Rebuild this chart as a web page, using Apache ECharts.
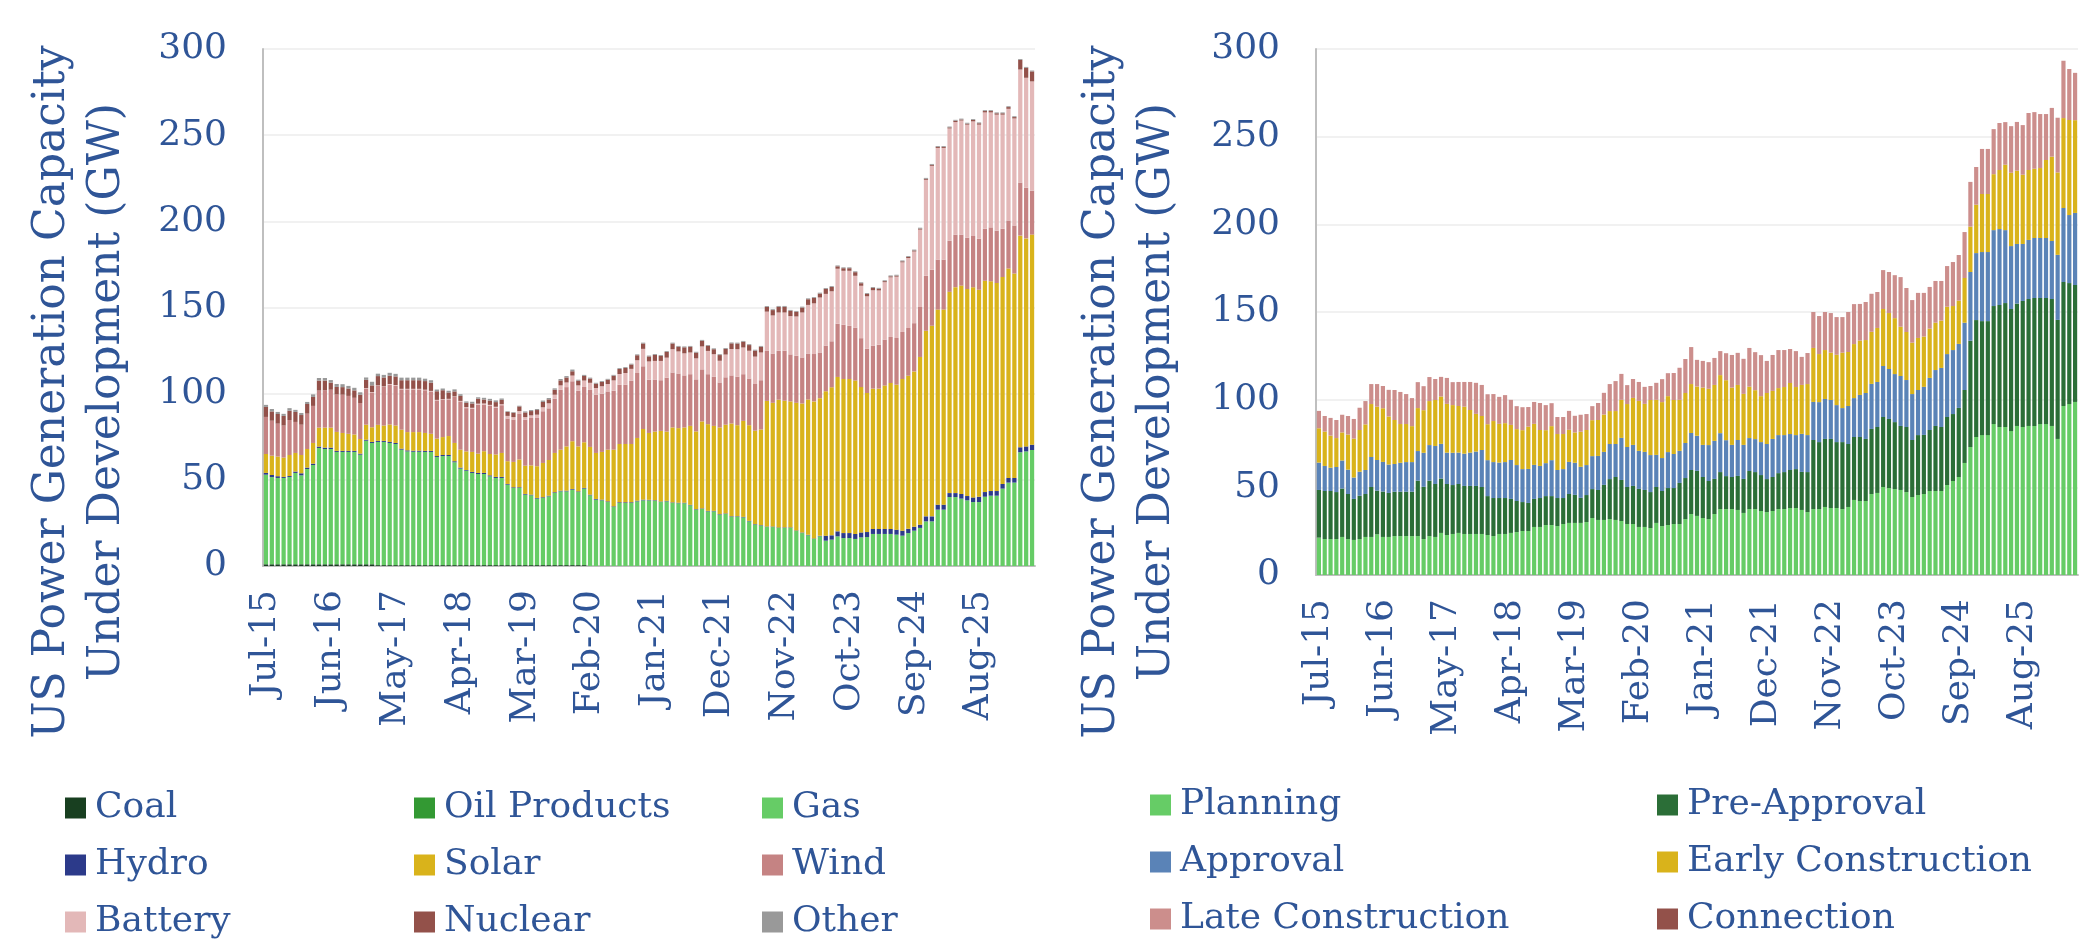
<!DOCTYPE html>
<html><head><meta charset="utf-8">
<script src="https://cdn.jsdelivr.net/npm/echarts@6/dist/echarts.min.js"></script>
<style>html,body{margin:0;padding:0;background:#fff}#c{width:2087px;height:950px}</style>
</head><body><div id="c"></div><script>
var categories = [
'Jul-15','Aug-15','Sep-15','Oct-15','Nov-15','Dec-15',
'Jan-16','Feb-16','Mar-16','Apr-16','May-16','Jun-16','Jul-16','Aug-16','Sep-16','Oct-16','Nov-16','Dec-16',
'Jan-17','Feb-17','Mar-17','Apr-17','May-17','Jun-17','Jul-17','Aug-17','Sep-17','Oct-17','Nov-17','Dec-17',
'Jan-18','Feb-18','Mar-18','Apr-18','May-18','Jun-18','Jul-18','Aug-18','Sep-18','Oct-18','Nov-18','Dec-18',
'Jan-19','Feb-19','Mar-19','Apr-19','May-19','Jun-19','Jul-19','Aug-19','Sep-19','Oct-19','Nov-19','Dec-19',
'Jan-20','Feb-20','Mar-20','Apr-20','May-20','Jun-20','Jul-20','Aug-20','Sep-20','Oct-20','Nov-20','Dec-20',
'Jan-21','Feb-21','Mar-21','Apr-21','May-21','Jun-21','Jul-21','Aug-21','Sep-21','Oct-21','Nov-21','Dec-21',
'Jan-22','Feb-22','Mar-22','Apr-22','May-22','Jun-22','Jul-22','Aug-22','Sep-22','Oct-22','Nov-22','Dec-22',
'Jan-23','Feb-23','Mar-23','Apr-23','May-23','Jun-23','Jul-23','Aug-23','Sep-23','Oct-23','Nov-23','Dec-23',
'Jan-24','Feb-24','Mar-24','Apr-24','May-24','Jun-24','Jul-24','Aug-24','Sep-24','Oct-24','Nov-24','Dec-24',
'Jan-25','Feb-25','Mar-25','Apr-25','May-25','Jun-25','Jul-25','Aug-25','Sep-25','Oct-25','Nov-25','Dec-25',
'Jan-26','Feb-26','Mar-26','Apr-26','May-26'];

var yTicks = [0, 50, 100, 150, 200, 250, 300];

// ---- Left chart: by technology (GW) ----
var coal = [
1,1,1,1,1,1,1,1,1,1,
1,1,1,1,1,1,1,1,1,0.5,
0.5,0.5,0.5,0.5,0.5,0.5,0.5,0.5,0.5,0.5,
0.5,0.5,0.5,0.5,0.5,0.5,0.5,0.5,0.5,0.5,
0.5,0.5,0.5,0.5,0.5,0.5,0.5,0.5,0.5,0.5,
0.5,0.5,0.5,0.5,0.5,0,0,0,0,0,
0,0,0,0,0,0,0,0,0,0,
0,0,0,0,0,0,0,0,0,0,
0,0,0,0,0,0,0,0,0,0,
0,0,0,0,0,0,0,0,0,0,
0,0,0,0,0,0,0,0,0,0,
0,0,0,0,0,0,0,0,0,0,
0,0,0,0,0,0,0,0,0,0,
0];
var oilProducts = [
0,0,0,0,0,0,0,0,0,0, 0,0,0,0,0,0,0,0,0,0, 0,0,0,0,0,0,0,0,0,0,
0,0,0,0,0,0,0,0,0,0, 0,0,0,0,0,0,0,0,0,0, 0,0,0,0,0,0,0,0,0,0,
0,0,0,0,0,0,0,0,0,0, 0,0,0,0,0,0,0,0,0,0, 0,0,0,0,0,0,0,0,0,0,
0,0,0,0,0,0,0,0,0,0, 0,0,0,0,0,0,0,0,0,0, 0,0,0,0,0,0,0,0,0,0,
0,0,0,0,0,0,0,0,0,0, 0];
var gas = [
52.0,50.6,50.1,50.1,50.6,53.0,51.6,55.3,57.6,67.5,
66.9,66.9,65.2,65.2,65.2,65.2,63.6,71.7,70.4,71.5,
71.5,70.9,70.3,67.0,66.0,65.8,65.8,65.7,65.7,62.7,
63.3,63.3,59.7,56.0,54.8,53.5,52.9,52.9,51.5,50.6,
50.6,46.7,44.8,44.8,40.9,40.5,38.6,39.0,39.9,41.9,
42.8,42.8,43.8,42.4,44.4,41.0,38.5,38.1,37.1,34.2,
36.6,36.6,36.6,37.5,38.1,38.1,37.9,37.1,37.5,36.6,
36.4,36.4,35.2,32.7,33.1,31.7,31.7,29.8,30.2,28.6,
28.6,28.2,25.9,24.0,23.4,22.6,22.6,22.1,22.1,22.1,
20.3,19.1,17.8,15.7,17.2,14.7,15.3,17.2,16.2,16.2,
15.7,16.6,16.8,18.6,18.6,18.6,18.6,18.2,17.6,19.1,
20.5,22.1,25.9,25.9,32.7,32.7,40.0,40.0,39.1,38.1,
37.1,37.1,40.2,40.8,40.8,44.9,48.4,48.4,66.0,66.5,
67.3];
var hydro = [
1.0,1.2,1.0,0.6,0.6,0.8,1.2,0.8,0.8,0.8,
0.8,0.8,0.6,0.6,0.6,0.6,0.6,0.6,0.6,0.6,
0.6,0.6,0.6,0.6,0.6,0.6,0.6,0.6,0.6,0.6,
0.6,0.6,0.6,0.6,0.4,0.6,0.6,0.6,0.6,0.6,
0.6,0.4,0.4,0.4,0.4,0.4,0.4,0.4,0.4,0.4,
0.4,0.4,0.4,0.4,0.4,0.4,0.4,0.4,0.4,0.4,
0.4,0.4,0.4,0.4,0.4,0.3,0.3,0.3,0.3,0.3,
0.3,0.3,0.3,0.3,0.3,0.3,0.3,0.3,0.3,0.3,
0.3,0.3,0.3,0.3,0.3,0.3,0.3,0.3,0.3,0.3,
0.3,0.3,0.3,0.3,0.3,2.9,2.5,2.9,2.9,2.9,
2.9,2.9,2.9,2.9,2.9,2.9,2.9,2.9,2.9,2.5,
2.3,1.9,2.9,2.9,2.9,2.9,2.3,2.3,2.7,2.5,
2.7,3.1,2.7,2.7,2.7,2.7,2.7,2.7,2.9,2.9,
3.1];
var solar = [
11.0,11.2,11.4,11.2,12.2,10.8,10.6,10.8,12.0,11.0,
11.6,11.6,11.0,10.4,9.9,9.5,8.5,8.7,8.5,9.3,
8.9,10.1,10.1,11.0,10.6,10.8,10.8,10.4,9.9,10.1,
10.4,11.0,10.6,10.4,10.8,11.6,11.2,12.6,12.4,13.0,
13.9,13.2,14.7,16.1,16.4,17.0,18.4,19.9,20.7,22.8,
23.8,25.7,27.7,26.1,26.5,27.7,26.7,27.7,30.0,32.9,
33.8,33.8,33.8,36.4,41.0,38.8,39.8,41.0,40.2,43.5,
43.3,43.7,45.8,45.1,50.5,50.3,49.3,50.3,51.5,53.8,
52.8,55.7,55.5,54.2,55.5,72.9,71.8,74.1,73.5,73.1,
74.1,74.9,78.5,79.5,79.9,83.8,85.9,89.6,89.4,89.4,
89.0,84.3,80.7,81.4,81.4,83.2,84.7,84.1,88.0,88.8,
90.1,97.3,107.7,110.6,113.2,113.2,116.8,119.5,120.9,120.1,
121.9,120.1,122.6,121.7,120.7,120.1,121.5,118.6,122.8,120.7,
121.9];
var wind = [
21.5,20.3,19.1,18.6,20.3,18.0,17.6,20.5,21.5,21.5,
21.7,22.0,21.7,22.2,22.0,21.3,20.9,20.9,20.1,22.6,
22.4,23.2,23.2,23.4,24.8,24.8,24.8,24.8,24.6,22.2,
21.7,21.3,26.7,28.0,25.1,25.0,28.4,27.1,27.9,27.1,
27.7,24.8,24.6,26.7,26.7,27.5,28.0,30.0,30.0,31.5,
34.8,34.4,34.8,32.3,32.1,33.3,33.8,33.8,33.8,34.2,
34.4,34.4,36.8,37.7,36.4,30.9,30.2,29.4,31.3,31.9,
31.7,30.2,30.0,30.2,30.2,29.0,28.6,26.1,27.5,27.9,
28.2,27.1,27.1,27.1,28.6,29.0,28.6,28.4,29.0,27.3,
27.3,26.7,26.7,27.5,26.5,26.5,26.7,30.9,31.5,30.9,
30.6,28.4,25.7,25.0,25.5,26.7,26.7,27.1,27.3,27.7,
28.0,29.0,31.9,32.5,29.0,29.0,29.6,30.4,29.6,29.8,
29.8,29.6,30.2,31.3,30.4,28.0,27.9,27.9,30.8,29.4,
25.5];
var battery = [
0,0,0,0,0,0,0,0,0,0,
0,0,0,0,0,0,0,0.3,0.3,0.3,
0.3,0.3,0.3,0.3,0.3,0.3,0.3,0.3,0.3,0.3,
0.3,0.3,0.3,0.3,0.6,0.6,0.6,0.6,0.6,0.6,
0.6,1.5,1.4,1.4,1.5,1.5,1.9,2.3,2.9,2.3,
2.5,2.7,3.3,3.1,3.7,3.9,3.9,4.3,4.3,6.0,
6.2,6.8,6.8,7.4,10.1,10.6,10.8,11.2,11.6,13.5,
12.8,12.8,12.6,12.2,13.3,13.5,13.0,12.6,13.2,15.3,
15.9,15.5,16.1,15.9,16.1,22.8,22.1,22.2,22.2,22.2,
22.8,26.1,28.2,29.4,31.9,30.0,29.0,31.9,31.3,31.9,
30.2,30.4,30.4,32.1,31.5,33.3,34.6,35.6,40.4,40.6,
41.6,44.9,55.7,60.3,64.8,64.8,65.2,65.4,66.2,65.6,
66.5,66.2,67.5,66.7,67.3,66.2,64.8,62.1,65.6,63.8,
63.4];
var nuclear = [
5.8,5.4,5.6,5.6,5.4,5.8,5.6,5.6,5.2,5.8,
5.6,4.1,4.4,4.4,4.3,4.3,4.8,4.8,3.9,5.4,
5.2,4.8,5.0,5.0,5.0,5.0,5.0,5.0,4.8,5.0,
5.2,3.7,2.9,2.9,2.5,2.5,2.9,2.3,2.5,2.7,
2.5,2.3,2.5,2.7,2.7,2.5,2.7,3.1,2.3,2.9,
2.9,2.9,2.5,2.7,2.7,2.5,2.5,2.5,2.5,2.7,
2.9,2.9,2.5,2.9,3.1,2.9,3.5,2.9,3.3,3.3,
2.7,3.5,3.3,3.3,3.3,2.9,2.9,3.3,3.3,3.3,
3.3,3.3,3.3,3.5,3.3,2.7,3.1,3.3,3.3,3.1,
2.7,2.9,3.3,3.1,2.3,2.9,2.5,1.4,1.5,1.5,
2.1,1.5,1.4,1.4,1.0,0.6,0.6,0.6,0.6,0.6,
0.6,0.6,0.6,0.6,0.6,0.6,0.6,0.8,0.6,0.6,
0.8,0.8,0.8,0.8,0.8,0.8,1.0,0.8,5.6,5.8,
5.8];
var other = [
1.2,1.4,1.2,1.2,1.5,1.2,1.2,1.2,1.5,1.5,
1.5,1.5,1.7,1.7,1.5,1.5,1.4,1.4,2.1,1.4,
1.5,1.7,1.5,1.5,1.5,1.5,1.5,1.4,1.4,1.0,
1.0,1.0,1.2,1.0,0.8,1.0,0.8,1.0,1.0,1.0,
0.8,0.4,0.4,0.4,0.6,0.6,0.6,0.8,0.8,0.8,
0.8,0.8,1.0,0.6,0.6,0.5,0.5,0.5,0.5,0.5,
0.5,0.5,0.5,0.5,0.5,0.5,0.5,0.5,0.5,0.5,
0.5,0.5,0.5,0.5,0.5,0.5,0.5,0.5,0.5,0.5,
0.5,0.5,0.5,0.5,0.5,0.5,0.5,0.5,0.5,0.5,
0.5,0.5,0.5,0.5,0.5,0.5,0.5,0.5,0.5,0.5,
0.5,0.5,0.5,0.5,0.5,0.5,0.5,0.5,0.5,0.5,
0.5,0.5,0.5,0.5,0.5,0.5,0.5,0.5,0.5,0.5,
0.5,0.5,0.5,0.5,0.5,0.5,0.5,0.5,0.5,0.5,
0.5];

// ---- Right chart: by stage (GW) ----
var planning = [
21.3,20.5,20.5,20.5,21.7,20.5,20.0,20.5,21.7,21.7,
23.2,21.7,21.7,22.2,22.2,22.2,22.2,22.2,20.5,22.2,
21.7,24.0,22.8,23.4,24.0,23.4,23.4,23.4,23.4,22.8,
22.2,23.4,23.4,24.0,24.5,25.1,25.1,27.4,27.4,28.5,
28.5,27.9,29.1,29.7,29.7,29.7,30.2,32.5,31.4,31.4,
31.9,31.4,30.8,29.1,29.1,27.4,27.4,26.8,29.7,27.9,
28.5,29.1,29.1,31.9,34.8,33.7,32.5,31.9,34.8,37.6,
37.6,37.6,37.1,35.4,37.6,37.6,36.5,35.9,36.5,37.6,
37.6,38.2,38.2,37.1,35.9,37.6,37.6,38.8,38.2,38.2,
37.6,38.8,42.8,42.2,42.2,46.2,46.8,50.2,49.6,49.0,
48.5,47.3,44.5,45.6,46.2,47.9,47.9,47.9,51.3,53.6,
55.9,63.9,73.0,78.7,79.8,79.8,86.1,84.4,84.4,82.1,
85.0,84.4,85.0,85.0,86.1,86.1,85.0,77.6,96.4,97.5,
98.7];
var preApproval = [
27.2,27.4,27.4,26.8,27.6,25.7,23.4,24.7,24.5,28.5,
24.9,25.9,25.1,25.3,25.3,25.3,25.3,31.6,29.8,31.6,
30.2,31.0,29.1,27.9,27.9,27.4,27.4,27.4,26.8,22.2,
21.7,20.5,20.5,19.4,17.7,16.5,16.0,16.0,16.5,16.5,
16.5,16.0,14.8,16.5,16.0,14.3,15.4,16.5,17.1,20.0,
22.8,24.5,23.4,21.1,21.7,21.7,21.1,20.5,20.5,20.0,
21.1,20.5,23.4,23.4,25.1,25.7,23.4,21.7,20.0,21.1,
18.8,18.3,19.4,19.4,21.7,21.1,20.5,18.8,19.4,20.5,
21.1,21.7,22.2,21.7,22.8,39.4,38.2,38.8,39.4,37.6,
38.2,35.9,35.9,36.5,35.4,37.1,37.6,39.9,39.4,38.2,
36.5,37.1,32.5,34.2,33.7,34.8,37.1,36.5,38.8,38.2,
39.4,41.6,60.6,66.7,65.0,65.0,67.3,69.6,70.7,69.6,
69.8,71.9,72.4,73.0,71.9,71.9,72.4,67.9,70.7,69.0,
66.7];
var approval = [
15.6,14.3,13.3,14.3,16.0,13.9,12.2,13.7,13.7,17.1,
17.5,16.9,16.2,15.8,16.5,16.9,16.9,16.9,19.4,20.3,
21.7,19.8,17.9,18.4,17.9,18.4,19.0,19.6,21.1,20.5,
20.5,20.2,20.5,22.2,20.5,18.8,19.4,19.4,18.3,18.8,
20.5,16.0,16.5,18.3,18.3,17.7,17.1,18.8,19.4,18.8,
20.0,18.8,24.0,22.8,23.4,21.7,21.7,21.1,18.3,18.8,
20.5,19.4,18.3,20.0,21.1,20.0,18.3,20.5,21.7,22.2,
20.5,18.3,20.5,19.4,18.8,18.8,18.8,20.0,21.7,21.7,
21.1,20.5,19.4,21.7,21.1,21.7,22.8,22.8,22.2,21.1,
19.4,21.7,22.2,24.0,26.2,25.7,25.7,29.1,28.5,27.4,
28.5,26.8,26.2,25.7,27.4,29.7,31.9,33.7,35.9,36.5,
36.5,38.4,39.2,38.2,39.4,39.4,43.3,43.3,41.6,35.9,
34.0,32.5,33.7,34.2,34.2,34.2,33.1,37.1,42.2,38.8,
41.1];
var earlyConstruction = [
19.6,19.6,18.3,16.5,16.0,20.0,22.2,23.8,26.0,30.2,
30.4,30.6,27.4,25.1,22.1,21.7,20.5,24.5,24.3,25.1,
26.2,27.0,27.8,27.2,26.6,26.8,24.3,21.5,19.4,20.5,
23.4,22.1,22.2,20.0,20.5,22.2,24.1,23.4,20.5,18.8,
19.4,20.5,20.0,18.3,17.3,20.0,20.0,20.5,20.5,21.3,
18.8,18.8,21.7,24.5,26.8,28.5,27.4,31.4,31.4,31.9,
31.9,30.8,29.1,28.5,27.9,28.1,32.7,32.1,31.9,33.1,
34.2,32.7,31.4,29.1,29.3,27.9,26.2,29.1,27.4,26.8,
27.4,29.1,27.4,27.9,29.1,30.8,27.4,27.9,27.0,28.7,
31.6,30.8,30.8,31.0,30.2,29.7,30.8,32.5,31.9,31.9,
28.1,27.4,29.3,29.7,28.7,28.1,27.0,27.0,27.0,25.1,
24.7,25.5,25.9,27.6,33.1,33.1,31.9,33.7,37.3,41.8,
41.8,39.5,39.9,39.5,39.9,44.5,48.1,47.0,51.3,54.2,
52.9];
var lateConstruction = [
9.9,8.9,10.1,10.3,10.1,10.6,11.2,12.7,13.3,11.4,
12.9,12.7,15.2,17.1,18.3,17.1,16.0,14.8,13.7,13.7,
12.0,11.2,14.8,13.1,13.7,14.1,16.0,17.7,17.7,17.1,
15.4,15.4,16.0,14.3,13.1,13.1,11.2,12.5,15.4,14.3,
13.1,9.7,9.7,10.8,9.5,9.7,9.1,8.0,9.7,12.4,
15.4,17.1,14.8,10.8,10.8,10.8,9.7,8.0,9.7,13.1,
13.1,15.4,18.3,19.4,21.1,15.2,15.2,15.2,15.4,13.7,
15.4,18.6,18.3,20.0,22.1,21.7,23.4,18.3,20.5,21.7,
21.1,19.4,20.5,16.0,17.7,20.5,21.7,21.7,22.6,21.5,
20.3,22.8,22.8,20.9,21.7,21.7,20.5,22.2,23.4,24.5,
28.3,25.1,24.3,25.7,24.9,23.8,23.8,22.6,23.2,25.1,
26.0,26.2,25.5,21.5,25.7,25.7,25.7,26.8,24.3,26.6,
27.8,28.3,32.5,32.3,30.8,26.2,27.8,31.2,32.7,29.1,
27.0];
var connection = [
0,0,0,0,0,0,0,0,0,0, 0,0,0,0,0,0,0,0,0,0, 0,0,0,0,0,0,0,0,0,0,
0,0,0,0,0,0,0,0,0,0, 0,0,0,0,0,0,0,0,0,0, 0,0,0,0,0,0,0,0,0,0,
0,0,0,0,0,0,0,0,0,0, 0,0,0,0,0,0,0,0,0,0, 0,0,0,0,0,0,0,0,0,0,
0,0,0,0,0,0,0,0,0,0, 0,0,0,0,0,0,0,0,0,0, 0,0,0,0,0,0,0,0,0,0,
0,0,0,0,0,0,0,0,0,0, 0];

var yTitle = 'US Power Generation Capacity\nUnder Development (GW)';

var TXT = '#2f5597';
var FONT = '"DejaVu Serif", "Liberation Serif", serif';
var C = {
  coal:'#183f20', oil:'#339933', gas:'#66cc66', hydro:'#2c3a8a', solar:'#d9b31b',
  wind:'#c58383', battery:'#e3b8b8', nuclear:'#93514a', other:'#999999',
  planning:'#66cc66', pre:'#2b6e37', approval:'#5a83b7', early:'#d9b31b', late:'#cc8e8c', conn:'#93514a'
};

function bar(name, data, color, stack, g) {
  return { name: name, type: 'bar', stack: stack, xAxisIndex: g, yAxisIndex: g,
    data: data, itemStyle: { color: color }, barCategoryGap: '28%',
    emphasis: { disabled: true }, animation: false };
}
function xAx(g) {
  return { type: 'category', gridIndex: g, data: categories,
    axisLine: { show: true, lineStyle: { color: '#bfbfbf', width: 2 } },
    axisTick: { show: false },
    axisLabel: { interval: 10, rotate: 90, color: TXT, fontFamily: FONT, fontSize: 36, margin: 24 } };
}
function yAx(g) {
  return { type: 'value', gridIndex: g, min: yTicks[0], max: yTicks[yTicks.length-1], interval: yTicks[1]-yTicks[0],
    axisLine: { show: true, lineStyle: { color: '#bfbfbf', width: 2 } },
    axisTick: { show: false },
    splitLine: { lineStyle: { color: '#ededed', width: 1.5 } },
    axisLabel: { color: TXT, fontFamily: FONT, fontSize: 36, margin: 36 } };
}
function leg(names, left, top) {
  return { data: names, orient: 'vertical', left: left, top: top, icon: 'rect',
    itemWidth: 21, itemHeight: 21, itemGap: 21, selectedMode: false,
    textStyle: { color: TXT, fontFamily: FONT, fontSize: 36, padding: [0,0,0,4] } };
}

var chart = echarts.init(document.getElementById('c'), null, { renderer: 'canvas' });
chart.setOption({
  animation: false,
  backgroundColor: '#ffffff',
  grid: [
    { left: 263, right: 2087 - 1035, top: 49, bottom: 950 - 566 },
    { left: 1316, right: 2087 - 2078, top: 49, bottom: 950 - 575 }
  ],
  xAxis: [xAx(0), xAx(1)],
  yAxis: [yAx(0), yAx(1)],
  legend: [
    leg(['Coal','Hydro','Battery'], 60, 785),
    leg(['Oil Products','Solar','Nuclear'], 409, 785),
    leg(['Gas','Wind','Other'], 757, 785),
    leg(['Planning','Approval','Late Construction'], 1145, 782),
    leg(['Pre-Approval','Early Construction','Connection'], 1652, 782)
  ],
  graphic: [
    { type: 'text', x: 80, y: 392, rotation: Math.PI / 2,
      style: { text: yTitle, fill: TXT, fontFamily: FONT, fontSize: 44, lineHeight: 55,
        align: 'center', verticalAlign: 'middle', textAlign: 'center', textVerticalAlign: 'middle' } },
    { type: 'text', x: 1130, y: 392, rotation: Math.PI / 2,
      style: { text: yTitle, fill: TXT, fontFamily: FONT, fontSize: 44, lineHeight: 55,
        align: 'center', verticalAlign: 'middle', textAlign: 'center', textVerticalAlign: 'middle' } }
  ],
  series: [
    bar('Coal', coal, C.coal, 'tech', 0),
    bar('Oil Products', oilProducts, C.oil, 'tech', 0),
    bar('Gas', gas, C.gas, 'tech', 0),
    bar('Hydro', hydro, C.hydro, 'tech', 0),
    bar('Solar', solar, C.solar, 'tech', 0),
    bar('Wind', wind, C.wind, 'tech', 0),
    bar('Battery', battery, C.battery, 'tech', 0),
    bar('Nuclear', nuclear, C.nuclear, 'tech', 0),
    bar('Other', other, C.other, 'tech', 0),
    bar('Planning', planning, C.planning, 'stage', 1),
    bar('Pre-Approval', preApproval, C.pre, 'stage', 1),
    bar('Approval', approval, C.approval, 'stage', 1),
    bar('Early Construction', earlyConstruction, C.early, 'stage', 1),
    bar('Late Construction', lateConstruction, C.late, 'stage', 1),
    bar('Connection', connection, C.conn, 'stage', 1)
  ]
});
</script></body></html>
